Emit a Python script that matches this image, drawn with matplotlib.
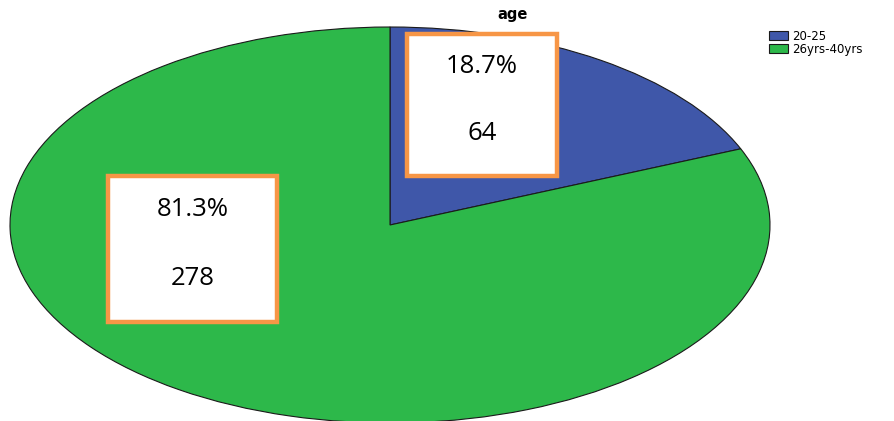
import matplotlib.pyplot as plt
from matplotlib.patches import Rectangle

groups = ['20-25', '26yrs-40yrs']
counts = [64, 278]
colors = ['#3F57A9', '#2DB84A']

W, H = 894, 421
fig = plt.figure(figsize=(W / 100, H / 100), dpi=100)

# ellipse spans x 10..770, y 27..423 px (origin top-left)
ax = fig.add_axes([10 / W, (H - 423) / H, 760 / W, 396 / H])
wedges, _ = ax.pie(counts, colors=colors, startangle=90, counterclock=False,
                   radius=1, wedgeprops=dict(edgecolor='#1a1a1a', linewidth=0.8))
ax.set_aspect('auto')
ax.set_xlim(-1, 1)
ax.set_ylim(-1, 1)
for w in wedges:
    w.set_clip_on(False)

total = sum(counts)
# label boxes (left, top, right, bottom in px)
boxes = [(407, 34, 557, 176), (108, 176, 277, 322)]
for (x0, y0, x1, y1), n in zip(boxes, counts):
    fig.add_artist(Rectangle((x0 / W, 1 - y1 / H), (x1 - x0) / W, (y1 - y0) / H,
                             transform=fig.transFigure, facecolor='white',
                             edgecolor='#F79646', linewidth=3.2))
    cx = (x0 + x1) / 2 / W
    fig.text(cx, 1 - (y0 + 0.23 * (y1 - y0)) / H, f'{n / total * 100:.1f}%',
             ha='center', va='center', fontsize=18.5, family='Open Sans')
    fig.text(cx, 1 - (y0 + 0.70 * (y1 - y0)) / H, f'{n}',
             ha='center', va='center', fontsize=18.5, family='Open Sans')

fig.text(513 / W, 1 - 15 / H, 'age', ha='center', va='center',
         fontsize=10.5, fontweight='bold', family='DejaVu Sans')

fig.legend(wedges, groups, loc='upper left', bbox_to_anchor=(767 / W, 1 - 28 / H),
           frameon=False, handlelength=1.6, handleheight=0.75,
           handletextpad=0.35, labelspacing=0.0, borderpad=0.15,
           borderaxespad=0,
           prop={'family': 'DejaVu Sans', 'size': 8.5})

fig.savefig('out.png', dpi=100)
